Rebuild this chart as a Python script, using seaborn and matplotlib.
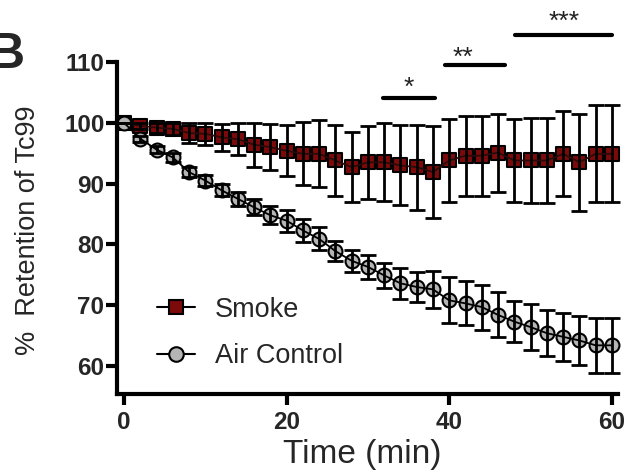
import matplotlib
matplotlib.use("Agg")
import matplotlib.pyplot as plt
import seaborn as sns
import pandas as pd
from matplotlib.lines import Line2D
from matplotlib import font_manager as fm

# ---- data ----
time_min = [0, 2, 4, 6, 8, 10, 12, 14, 16, 18, 20, 22, 24, 26, 28, 30,
            32, 34, 36, 38, 40, 42, 44, 46, 48, 50, 52, 54, 56, 58, 60]
smoke_mean = [100.0, 99.5, 99.2, 99.0, 98.3, 98.2, 97.6, 97.3, 96.4, 96.0, 95.4,
              94.9, 94.9, 93.8, 92.7, 93.5, 93.5, 93.0, 92.7, 91.9, 93.8,
              94.6, 94.6, 95.1, 93.8, 93.8, 93.8, 94.9, 93.5, 94.9, 94.9]
smoke_err = [0.0, 0.5, 0.8, 1.0, 1.7, 1.8, 2.2, 2.6, 3.6, 3.8, 4.2,
             5.2, 5.5, 5.8, 5.8, 6.0, 6.4, 6.6, 7.0, 7.6, 6.8,
             6.6, 6.6, 6.4, 6.8, 7.0, 7.0, 7.0, 8.0, 8.0, 8.0]
air_mean = [100.0, 97.4, 95.6, 94.3, 91.9, 90.5, 88.9, 87.5, 86.1, 84.8, 83.9,
            82.3, 80.9, 78.9, 77.3, 76.3, 74.9, 73.6, 73.0, 72.6, 70.8,
            70.3, 69.7, 68.4, 67.3, 66.4, 65.4, 64.8, 64.2, 63.4, 63.4]
air_err = [0.0, 0.5, 0.6, 0.7, 0.8, 0.9, 1.0, 1.2, 1.3, 1.5, 1.8,
           1.9, 1.9, 1.7, 1.8, 2.0, 2.1, 2.5, 2.4, 3.0, 3.8,
           3.6, 3.7, 3.7, 3.4, 3.8, 3.8, 4.0, 4.1, 4.5, 4.5]
series_names = ["Smoke", "Air Control"]

sig_start = [31.9, 39.5, 48.1]
sig_end = [38.3, 46.9, 60.0]
sig_level = [104.0, 109.5, 114.5]
sig_label = ["*", "**", "***"]
sig_label_x = [35.0, 41.7, 54.1]
sig_label_y = [105.7, 110.6, 116.6]

x_ticks = [0, 20, 40, 60]
y_ticks = [60, 70, 80, 90, 100, 110]

# ---- style ----
sns.set_style("ticks")
plt.rcParams["font.family"] = ["Liberation Sans", "DejaVu Sans"]


def find_font(fname_part, fallback_weight):
    for f in fm.findSystemFonts():
        if f.endswith(fname_part):
            return fm.FontProperties(fname=f)
    return fm.FontProperties(family="Liberation Sans", weight=fallback_weight)


bold_fp = find_font("LiberationSans-Bold.ttf", "bold")

smoke_color = "#7d0a0a"
air_color = "#b5b5b5"

df = pd.DataFrame({
    "time": time_min * 2,
    "value": smoke_mean + air_mean,
    "err": smoke_err + air_err,
    "group": [series_names[0]] * len(time_min) + [series_names[1]] * len(time_min),
})

fig = plt.figure(figsize=(6.28, 4.76), dpi=100)
ax = fig.add_axes([0.1863, 0.1723, 0.801, 0.8252])

ms_sq = 10.5
ms_ci = 10
mew = 1.5
sub_s = df[df["group"] == "Smoke"]
sub_a = df[df["group"] == "Air Control"]
# markers
sns.scatterplot(data=sub_s, x="time", y="value", marker="s", color=smoke_color,
                s=ms_sq ** 2, edgecolor="black", linewidth=mew, legend=False,
                ax=ax, zorder=2)
sns.scatterplot(data=sub_a, x="time", y="value", marker="o", color=air_color,
                s=ms_ci ** 2, edgecolor="black", linewidth=mew, legend=False,
                ax=ax, zorder=2.5)
# connecting lines
sns.lineplot(data=df, x="time", y="value", hue="group",
             palette={"Smoke": "#2a0a0a", "Air Control": "black"},
             linewidth=1.3, legend=False, ax=ax, zorder=3, errorbar=None)
# error bars
for sub in [sub_s, sub_a]:
    ax.errorbar(sub["time"], sub["value"], yerr=sub["err"], fmt="none",
                ecolor="black", elinewidth=2.0, capsize=6, capthick=2.0, zorder=4)

# significance bars
for xs, xe, yl, lab, lx, ly in zip(sig_start, sig_end, sig_level, sig_label,
                                   sig_label_x, sig_label_y):
    ax.plot([xs, xe], [yl, yl], color="black", lw=3, solid_capstyle="round",
            clip_on=False, zorder=5)
    ax.text(lx, ly, lab, ha="center", va="center", fontsize=19, color="#222222")

ax.set_xlim(-0.86, 61)
ax.set_ylim(55.4, 120)
ax.set_xticks(x_ticks)
ax.set_yticks(y_ticks)
ax.set_xticklabels([str(v) for v in x_ticks])
ax.set_yticklabels([str(v) for v in y_ticks])
for lab in ax.get_xticklabels() + ax.get_yticklabels():
    lab.set_fontproperties(bold_fp)
    lab.set_fontsize(17.5)
ax.tick_params(axis="both", width=3, length=8, color="black")
ax.tick_params(axis="y", pad=1)
ax.tick_params(axis="x", pad=4)

sns.despine(ax=ax)
for sp in ["left", "bottom"]:
    ax.spines[sp].set_linewidth(3)
    ax.spines[sp].set_color("black")
ax.spines["left"].set_bounds(55.4, 110)
ax.spines["bottom"].set_bounds(-0.86, 60.8)

ax.set_xlabel("Time (min)", fontsize=24)
ax.xaxis.set_label_coords(0.488, -0.114)
ax.set_ylabel("%  Retention of Tc99", fontsize=19.5, va="center")
ax.yaxis.set_label_coords(-0.176, 0.4175)

# legend
handles = [
    Line2D([], [], color="black", lw=1.5, marker="s", markersize=ms_sq,
           markerfacecolor=smoke_color, markeredgecolor="black", markeredgewidth=mew),
    Line2D([], [], color="black", lw=1.5, marker="o", markersize=ms_sq,
           markerfacecolor=air_color, markeredgecolor="black", markeredgewidth=mew),
]
ax.legend(handles, series_names, loc="upper left", bbox_to_anchor=(0.0795, 0.247),
          frameon=False, fontsize=19.5, borderaxespad=0, borderpad=0,
          handlelength=1.4, handletextpad=0.75, labelspacing=0.75)

fig.text(-11 / 628, 1 - 68 / 476, "B", fontsize=36, fontweight="bold",
         ha="left", va="baseline")

fig.savefig("out.png", dpi=100)
